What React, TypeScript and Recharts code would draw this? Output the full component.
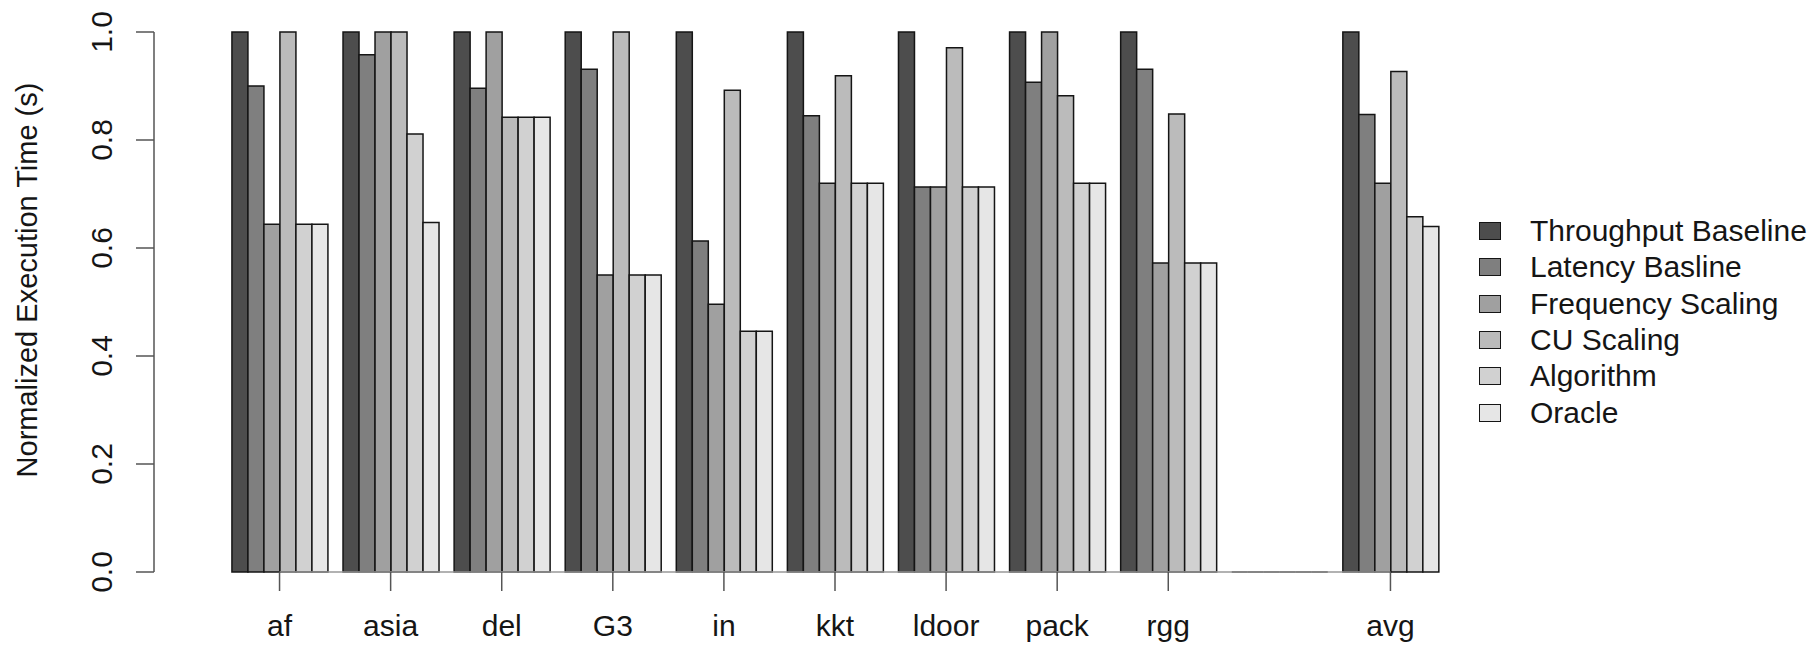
import React from 'react';
import { BarChart, Bar, XAxis, YAxis, Legend, ReferenceLine } from 'recharts';

// benchmark graphs, the blank one is the spacer before avg
const categories = ['af', 'asia', 'del', 'G3', 'in', 'kkt', 'ldoor', 'pack', 'rgg', '', 'avg'];

const throughputBaseline = [1.0, 1.0, 1.0, 1.0, 1.0, 1.0, 1.0, 1.0, 1.0, 0, 1.0];
const latencyBaseline = [0.9, 0.958, 0.896, 0.931, 0.613, 0.845, 0.713, 0.907, 0.931, 0, 0.847];
const frequencyScaling = [0.644, 1.0, 1.0, 0.55, 0.496, 0.72, 0.713, 1.0, 0.572, 0, 0.72];
const cuScaling = [1.0, 1.0, 0.842, 1.0, 0.892, 0.919, 0.971, 0.882, 0.848, 0, 0.927];
const algorithm = [0.644, 0.811, 0.842, 0.55, 0.446, 0.72, 0.713, 0.72, 0.572, 0, 0.658];
const oracle = [0.644, 0.647, 0.842, 0.55, 0.446, 0.72, 0.713, 0.72, 0.572, 0, 0.64];

const yTicks = [0, 0.2, 0.4, 0.6, 0.8, 1.0];

const SERIES = [
  { key: 'tb', name: 'Throughput Baseline', values: throughputBaseline, color: '#4d4d4d' },
  { key: 'lb', name: 'Latency Basline', values: latencyBaseline, color: '#7f7f7f' },
  { key: 'fs', name: 'Frequency Scaling', values: frequencyScaling, color: '#a0a0a0' },
  { key: 'cu', name: 'CU Scaling', values: cuScaling, color: '#bbbbbb' },
  { key: 'alg', name: 'Algorithm', values: algorithm, color: '#d1d1d1' },
  { key: 'or', name: 'Oracle', values: oracle, color: '#e6e6e6' },
];

const data = categories.map((c, i) => {
  const row: Record<string, any> = { name: c };
  SERIES.forEach(s => { row[s.key] = s.values[i]; });
  return row;
});

const FONT = '"Liberation Sans", Arial, Helvetica, sans-serif';
const INK = '#151515';

// draws the outline even for zero-height bars (the empty group)
const BarShape = (props: any) => {
  const { x, y, width, height, fill } = props;
  if (x == null || y == null) return null;
  return (
    <path
      d={`M${x},${y}h${width}v${height}h${-width}Z`}
      fill={fill}
      stroke={INK}
      strokeWidth={1.5}
    />
  );
};

const XTick = (props: any) => {
  const { x, y, payload } = props;
  if (!payload.value) return null;
  return (
    <g>
      <line x1={x} x2={x} y1={y - 43} y2={y - 24} stroke="#555" strokeWidth={1.5} />
      <text x={x} y={y} dy="0.71em" textAnchor="middle" fontSize={30} fontFamily={FONT} fill={INK}>
        {payload.value}
      </text>
    </g>
  );
};

const YTick = (props: any) => {
  const { x, y, payload } = props;
  const bx = x - 24;
  return (
    <text
      x={bx}
      y={y}
      transform={`rotate(-90, ${bx}, ${y})`}
      textAnchor="middle"
      fontSize={30}
      fontFamily={FONT}
      fill={INK}
    >
      {payload.value.toFixed(1)}
    </text>
  );
};

const YTitle = () => {
  const cy = 280;
  return (
    <text
      x={37}
      y={cy}
      transform={`rotate(-90, 37, ${cy})`}
      textAnchor="middle"
      fontSize={29}
      fontFamily={FONT}
      fill={INK}
    >
      Normalized Execution Time (s)
    </text>
  );
};

const LegendBox = () => (
  <div style={{ fontFamily: FONT, fontSize: 30, color: INK }}>
    {SERIES.map(s => (
      <div key={s.key} style={{ display: 'flex', alignItems: 'center', height: 36.3 }}>
        <div style={{
          width: 20, height: 16, background: s.color,
          border: `1.5px solid ${INK}`, marginRight: 29, flexShrink: 0,
        }} />
        <span style={{ whiteSpace: 'nowrap', lineHeight: '36px' }}>{s.name}</span>
      </div>
    ))}
  </div>
);

export default function App() {
  return (
    <div style={{ position: 'absolute', left: 0, top: 0, width: 1816, height: 647, background: '#fff' }}>
      <BarChart
        width={1816}
        height={647}
        data={data}
        margin={{ top: 32, right: 370, bottom: 0, left: 0 }}
        barGap={0}
        barCategoryGap="7.14%"
      >
        <XAxis
          dataKey="name"
          height={75}
          padding={{ left: 70, right: 0 }}
          axisLine={false}
          tickLine={false}
          tickSize={19}
          tickMargin={24}
          interval={0}
          tick={<XTick />}
        />
        <YAxis
          width={154}
          domain={[0, 1]}
          ticks={yTicks}
          tickSize={18}
          tickMargin={0}
          axisLine={{ stroke: '#555', strokeWidth: 1.5 }}
          tickLine={{ stroke: '#555', strokeWidth: 1.5 }}
          tick={<YTick />}
          label={<YTitle />}
        />
        <ReferenceLine
          segment={[{ x: 'af', y: 0 }, { x: 'avg', y: 0 }]}
          stroke="#999"
          strokeWidth={1.5}
        />
        {SERIES.map(s => (
          <Bar
            key={s.key}
            dataKey={s.key}
            name={s.name}
            fill={s.color}
            shape={<BarShape />}
            isAnimationActive={false}
          />
        ))}
        <Legend
          layout="vertical"
          align="center"
          verticalAlign="middle"
          content={<LegendBox />}
          wrapperStyle={{ left: 1479, top: 213, width: 337, height: 220 }}
        />
      </BarChart>
    </div>
  );
}
